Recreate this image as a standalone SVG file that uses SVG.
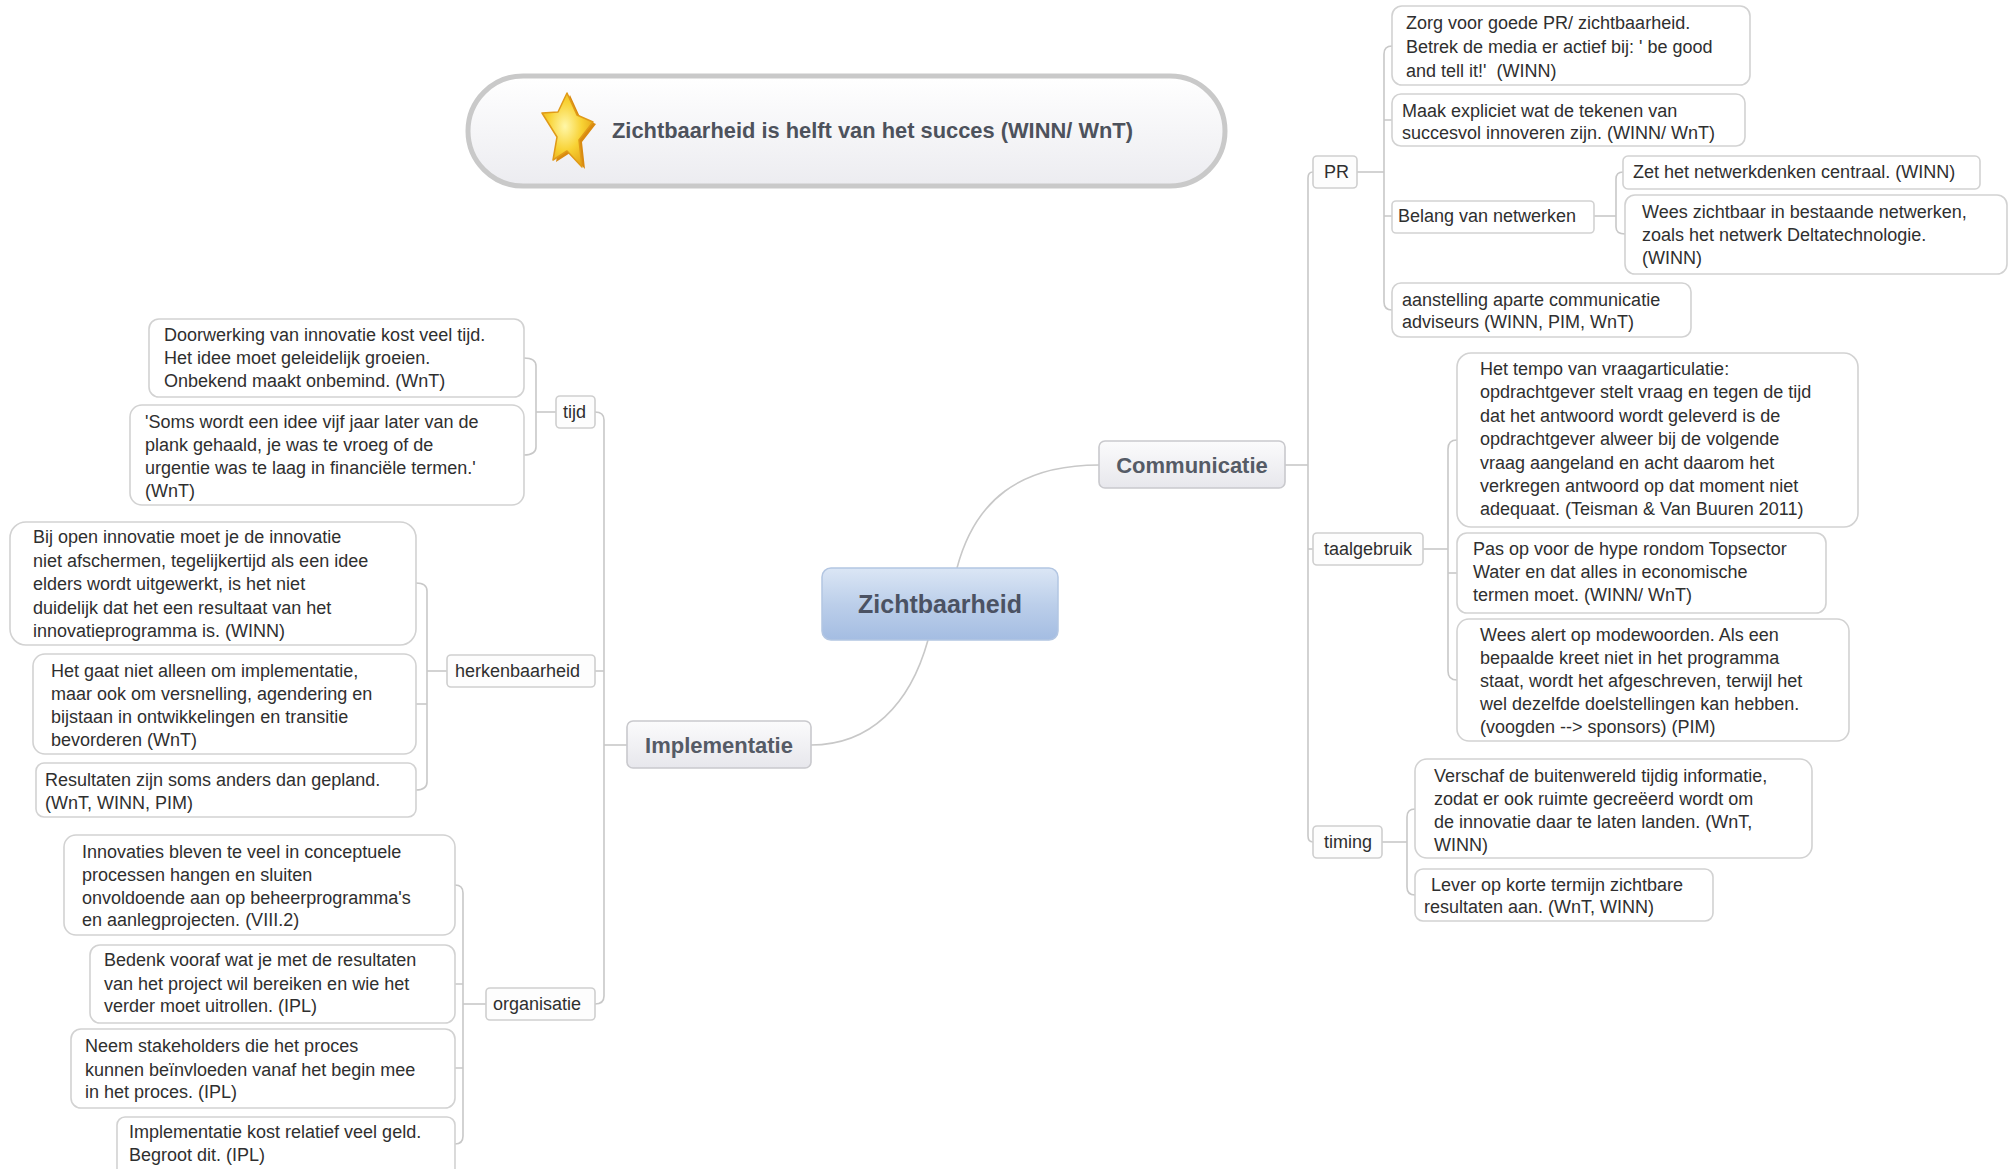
<svg xmlns="http://www.w3.org/2000/svg" width="2015" height="1169" viewBox="0 0 2015 1169">
<style>
text{font-family:"Liberation Sans",Arial,sans-serif;}
.t{font-size:18px;fill:#2f2f2f;}
.leaf{fill:#fff;stroke:#d2d2d2;stroke-width:1.6;}
.sub{fill:#fdfdfd;stroke:#cfcfcf;stroke-width:1.6;}
.main{fill:url(#gMain);stroke:#c9c9cd;stroke-width:1.6;}
.mt{font-size:22px;font-weight:bold;fill:#555b66;text-anchor:middle;}
.c{fill:none;stroke:#c8c8c8;stroke-width:1.6;}
</style>
<defs>
<linearGradient id="gMain" x1="0" y1="0" x2="0" y2="1"><stop offset="0" stop-color="#fbfbfc"/><stop offset="1" stop-color="#e7e7ec"/></linearGradient>
<linearGradient id="gCenter" x1="0" y1="0" x2="0" y2="1"><stop offset="0" stop-color="#dbe6f5"/><stop offset="0.5" stop-color="#bccfea"/><stop offset="1" stop-color="#a4bde2"/></linearGradient>
<linearGradient id="gTitle" x1="0" y1="0" x2="0" y2="1"><stop offset="0" stop-color="#ffffff"/><stop offset="1" stop-color="#ececf0"/></linearGradient>
<radialGradient id="gStar" cx="0.45" cy="0.45" r="0.6"><stop offset="0" stop-color="#fff7a8"/><stop offset="0.55" stop-color="#f8d234"/><stop offset="1" stop-color="#e6a515"/></radialGradient>
</defs>

<g id="connectors">
<path class="c" d="M 957 568 C 975 500 1020 465 1099 465"/>
<path class="c" d="M 928 640 C 910 705 870 745 811 745"/>
<path class="c" d="M 1285 465 H 1308"/>
<path class="c" d="M 1313 172 Q 1308 172 1308 178 V 836 Q 1308 842 1313 842"/>
<path class="c" d="M 1308 549 H 1313"/>
<path class="c" d="M 1357 172 H 1384"/>
<path class="c" d="M 1392 46 Q 1384 46 1384 54 V 302 Q 1384 310 1392 310"/>
<path class="c" d="M 1384 120 H 1392 M 1384 216 H 1392"/>
<path class="c" d="M 1594 216 H 1616"/>
<path class="c" d="M 1623 172 Q 1616 172 1616 179 V 227 Q 1616 234 1625 234"/>
<path class="c" d="M 1423 549 H 1448"/>
<path class="c" d="M 1457 440 Q 1448 440 1448 449 V 671 Q 1448 680 1457 680"/>
<path class="c" d="M 1448 573 H 1457"/>
<path class="c" d="M 1382 842 H 1407"/>
<path class="c" d="M 1415 809 Q 1407 809 1407 817 V 887 Q 1407 895 1415 895"/>
<path class="c" d="M 627 745 H 604"/>
<path class="c" d="M 595 412 Q 604 412 604 420 V 996 Q 604 1004 595 1004"/>
<path class="c" d="M 604 671 H 595"/>
<path class="c" d="M 556 412 H 536"/>
<path class="c" d="M 524 358 Q 536 358 536 366 V 447 Q 536 455 524 455"/>
<path class="c" d="M 447 671 H 427"/>
<path class="c" d="M 416 583 Q 427 583 427 591 V 782 Q 427 790 416 790"/>
<path class="c" d="M 427 704 H 416"/>
<path class="c" d="M 486 1004 H 463"/>
<path class="c" d="M 455 885 Q 463 885 463 893 V 1136 Q 463 1144 455 1144"/>
<path class="c" d="M 463 984 H 455 M 463 1068 H 455"/>
</g>

<g id="title">
<rect x="468" y="76" width="757" height="110" rx="55" fill="url(#gTitle)" stroke="#c9c9c9" stroke-width="5"/>
<polygon points="567,93 577,115 593,122 579,140 582,167 567,151 553,160 557,137 542,113 558,112" fill="#d98a10" transform="translate(3,2)"/>
<polygon points="567,93 577,115 593,122 579,140 582,167 567,151 553,160 557,137 542,113 558,112" fill="url(#gStar)" stroke="#e09a18" stroke-width="1.5" stroke-linejoin="round"/>
<text x="612" y="138" font-size="22" font-weight="bold" fill="#4d525c" textLength="521" lengthAdjust="spacingAndGlyphs">Zichtbaarheid is helft van het succes (WINN/ WnT)</text>
</g>

<g id="center">
<rect x="822" y="568" width="236" height="72" rx="9" fill="url(#gCenter)" stroke="#b3c6e2" stroke-width="1.5"/>
<text x="940" y="613" font-size="25" font-weight="bold" fill="#4b5263" text-anchor="middle">Zichtbaarheid</text>
</g>

<g id="communicatie">
<rect class="main" x="1099" y="441" width="186" height="47" rx="6"/>
<text class="mt" x="1192" y="473">Communicatie</text>
</g>

<g id="implementatie">
<rect class="main" x="627" y="721" width="184" height="47" rx="6"/>
<text class="mt" x="719" y="753">Implementatie</text>
</g>

<g id="pr">
<rect class="sub" x="1313" y="156" width="44" height="32" rx="4"/>
<text class="t" x="1324" y="178">PR</text>
</g>
<g id="pr1">
<rect class="leaf" x="1392" y="6" width="358" height="79" rx="10"/>
<text class="t"><tspan x="1406" y="29">Zorg voor goede PR/ zichtbaarheid.</tspan><tspan x="1406" y="53">Betrek de media er actief bij: ' be good</tspan><tspan x="1406" y="77">and tell it!'&#160; (WINN)</tspan></text>
</g>
<g id="pr2">
<rect class="leaf" x="1392" y="94" width="353" height="52" rx="9"/>
<text class="t"><tspan x="1402" y="117">Maak expliciet wat de tekenen van</tspan><tspan x="1402" y="139">succesvol innoveren zijn. (WINN/ WnT)</tspan></text>
</g>
<g id="belang">
<rect class="leaf" x="1392" y="201" width="202" height="32" rx="4"/>
<text class="t" x="1398" y="222">Belang van netwerken</text>
</g>
<g id="zet">
<rect class="leaf" x="1623" y="156" width="357" height="33" rx="5"/>
<text class="t" x="1633" y="178">Zet het netwerkdenken centraal. (WINN)</text>
</g>
<g id="wees">
<rect class="leaf" x="1625" y="195" width="382" height="79" rx="10"/>
<text class="t"><tspan x="1642" y="218">Wees zichtbaar in bestaande netwerken,</tspan><tspan x="1642" y="241">zoals het netwerk Deltatechnologie.</tspan><tspan x="1642" y="264">(WINN)</tspan></text>
</g>
<g id="aanstelling">
<rect class="leaf" x="1392" y="283" width="299" height="54" rx="9"/>
<text class="t"><tspan x="1402" y="306">aanstelling aparte communicatie</tspan><tspan x="1402" y="328">adviseurs (WINN, PIM, WnT)</tspan></text>
</g>

<g id="taalgebruik">
<rect class="sub" x="1313" y="533" width="110" height="32" rx="4"/>
<text class="t" x="1324" y="555">taalgebruik</text>
</g>
<g id="taal1">
<rect class="leaf" x="1457" y="353" width="401" height="174" rx="14"/>
<text class="t"><tspan x="1480" y="375">Het tempo van vraagarticulatie:</tspan><tspan x="1480" y="398.4">opdrachtgever stelt vraag en tegen de tijd</tspan><tspan x="1480" y="421.8">dat het antwoord wordt geleverd is de</tspan><tspan x="1480" y="445.2">opdrachtgever alweer bij de volgende</tspan><tspan x="1480" y="468.6">vraag aangeland en acht daarom het</tspan><tspan x="1480" y="492">verkregen antwoord op dat moment niet</tspan><tspan x="1480" y="515.4">adequaat. (Teisman &amp; Van Buuren 2011)</tspan></text>
</g>
<g id="taal2">
<rect class="leaf" x="1457" y="533" width="369" height="80" rx="10"/>
<text class="t"><tspan x="1473" y="555">Pas op voor de hype rondom Topsector</tspan><tspan x="1473" y="578">Water en dat alles in economische</tspan><tspan x="1473" y="601">termen moet. (WINN/ WnT)</tspan></text>
</g>
<g id="taal3">
<rect class="leaf" x="1457" y="619" width="392" height="122" rx="12"/>
<text class="t"><tspan x="1480" y="641">Wees alert op modewoorden. Als een</tspan><tspan x="1480" y="664">bepaalde kreet niet in het programma</tspan><tspan x="1480" y="687">staat, wordt het afgeschreven, terwijl het</tspan><tspan x="1480" y="710">wel dezelfde doelstellingen kan hebben.</tspan><tspan x="1480" y="733">(voogden --&gt; sponsors) (PIM)</tspan></text>
</g>

<g id="timing">
<rect class="sub" x="1313" y="826" width="69" height="32" rx="4"/>
<text class="t" x="1324" y="848">timing</text>
</g>
<g id="timing1">
<rect class="leaf" x="1415" y="759" width="397" height="99" rx="12"/>
<text class="t"><tspan x="1434" y="782">Verschaf de buitenwereld tijdig informatie,</tspan><tspan x="1434" y="805">zodat er ook ruimte gecreëerd wordt om</tspan><tspan x="1434" y="828">de innovatie daar te laten landen. (WnT,</tspan><tspan x="1434" y="851">WINN)</tspan></text>
</g>
<g id="timing2">
<rect class="leaf" x="1415" y="869" width="298" height="52" rx="8"/>
<text class="t"><tspan x="1431" y="891">Lever op korte termijn zichtbare</tspan><tspan x="1424" y="913">resultaten aan. (WnT, WINN)</tspan></text>
</g>

<g id="tijd">
<rect class="sub" x="556" y="396" width="39" height="32" rx="4"/>
<text class="t" x="563" y="418">tijd</text>
</g>
<g id="tijd1">
<rect class="leaf" x="149" y="319" width="375" height="78" rx="10"/>
<text class="t"><tspan x="164" y="341">Doorwerking van innovatie kost veel tijd.</tspan><tspan x="164" y="364">Het idee moet geleidelijk groeien.</tspan><tspan x="164" y="387">Onbekend maakt onbemind. (WnT)</tspan></text>
</g>
<g id="tijd2">
<rect class="leaf" x="130" y="405" width="394" height="100" rx="12"/>
<text class="t"><tspan x="145" y="428">'Soms wordt een idee vijf jaar later van de</tspan><tspan x="145" y="451">plank gehaald, je was te vroeg of de</tspan><tspan x="145" y="474">urgentie was te laag in financiële termen.'</tspan><tspan x="145" y="497">(WnT)</tspan></text>
</g>

<g id="herkenbaarheid">
<rect class="sub" x="447" y="655" width="148" height="32" rx="4"/>
<text class="t" x="455" y="677">herkenbaarheid</text>
</g>
<g id="herk1">
<rect class="leaf" x="10" y="522" width="406" height="123" rx="16"/>
<text class="t"><tspan x="33" y="543">Bij open innovatie moet je de innovatie</tspan><tspan x="33" y="567">niet afschermen, tegelijkertijd als een idee</tspan><tspan x="33" y="590">elders wordt uitgewerkt, is het niet</tspan><tspan x="33" y="614">duidelijk dat het een resultaat van het</tspan><tspan x="33" y="637">innovatieprogramma is. (WINN)</tspan></text>
</g>
<g id="herk2">
<rect class="leaf" x="33" y="654" width="383" height="100" rx="12"/>
<text class="t"><tspan x="51" y="677">Het gaat niet alleen om implementatie,</tspan><tspan x="51" y="700">maar ook om versnelling, agendering en</tspan><tspan x="51" y="723">bijstaan in ontwikkelingen en transitie</tspan><tspan x="51" y="746">bevorderen (WnT)</tspan></text>
</g>
<g id="herk3">
<rect class="leaf" x="36" y="763" width="380" height="54" rx="8"/>
<text class="t"><tspan x="45" y="786">Resultaten zijn soms anders dan gepland.</tspan><tspan x="45" y="809">(WnT, WINN, PIM)</tspan></text>
</g>

<g id="organisatie">
<rect class="sub" x="486" y="988" width="109" height="32" rx="4"/>
<text class="t" x="493" y="1010">organisatie</text>
</g>
<g id="org1">
<rect class="leaf" x="64" y="835" width="391" height="100" rx="12"/>
<text class="t"><tspan x="82" y="858">Innovaties bleven te veel in conceptuele</tspan><tspan x="82" y="881">processen hangen en sluiten</tspan><tspan x="82" y="904">onvoldoende aan op beheerprogramma's</tspan><tspan x="82" y="926">en aanlegprojecten. (VIII.2)</tspan></text>
</g>
<g id="org2">
<rect class="leaf" x="90" y="945" width="365" height="78" rx="10"/>
<text class="t"><tspan x="104" y="966">Bedenk vooraf wat je met de resultaten</tspan><tspan x="104" y="990">van het project wil bereiken en wie het</tspan><tspan x="104" y="1012">verder moet uitrollen. (IPL)</tspan></text>
</g>
<g id="org3">
<rect class="leaf" x="71" y="1029" width="384" height="79" rx="10"/>
<text class="t"><tspan x="85" y="1052">Neem stakeholders die het proces</tspan><tspan x="85" y="1076">kunnen beïnvloeden vanaf het begin mee</tspan><tspan x="85" y="1098">in het proces. (IPL)</tspan></text>
</g>
<g id="org4">
<rect class="leaf" x="117" y="1117" width="338" height="60" rx="8"/>
<text class="t"><tspan x="129" y="1138">Implementatie kost relatief veel geld.</tspan><tspan x="129" y="1161">Begroot dit. (IPL)</tspan></text>
</g>
</svg>
